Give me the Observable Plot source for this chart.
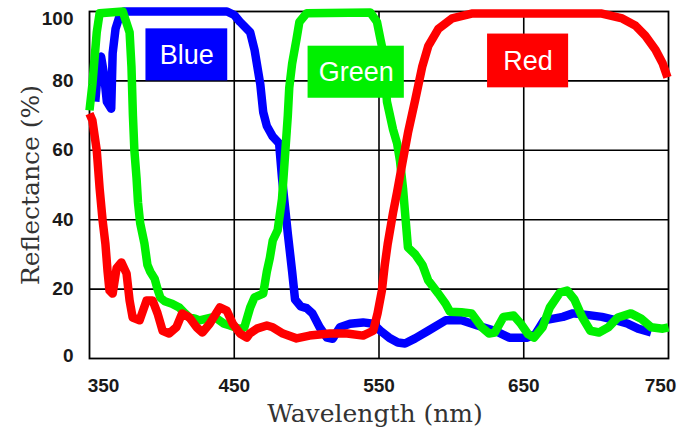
<!DOCTYPE html>
<html>
<head>
<meta charset="utf-8">
<script src="https://cdn.jsdelivr.net/npm/d3@7"></script>
<script src="https://cdn.jsdelivr.net/npm/@observablehq/plot@0.6"></script>
<style>
  html, body { margin: 0; padding: 0; background: #fff; }
  #chart { width: 678px; height: 434px; }
</style>
</head>
<body>
<div id="chart"></div>
<script>
// ---- data (wavelength nm, reflectance %) ----
const seriesNames = ["Blue", "Green", "Red"];
const wavelengthTicks = [350, 450, 550, 650, 750];
const reflectanceTicks = [0, 20, 40, 60, 80, 100];

const blueCurve = [
  [354, 74], [356, 84], [358, 87], [360, 82], [362, 74], [365, 72], [366, 88], [368, 95], [371, 99],
  [374, 100], [445, 100], [450, 99], [454, 97], [461, 94], [464, 89], [468, 79], [470, 71],
  [472.5, 67], [476.5, 64], [481, 62], [483, 52], [485, 44], [487, 36], [490, 25], [492, 17],
  [496, 15], [500, 14.5], [504, 13], [509, 9], [514, 6], [518, 5.7], [523, 9], [530, 10],
  [539, 10.4], [546, 10], [551, 8], [557, 6], [563, 4.6], [568, 4.3], [575, 5.8], [584, 8],
  [596, 11], [607, 11], [618, 9.5], [630, 8], [640, 6], [652, 6], [658, 7], [664, 11], [677, 12],
  [684, 13], [695, 12.5], [704, 12], [714, 11], [722, 10], [729, 8.6], [738, 7.5]
];

const greenCurve = [
  [350, 71.5], [352, 79], [355, 94], [357, 99.5], [373, 100], [377.7, 94], [379, 84], [380, 70],
  [381, 60], [382.5, 52], [383.5, 45], [385, 39], [388, 33], [390, 27], [392, 25], [395, 23],
  [397, 20], [399, 17.5], [402, 16.5], [407, 15.8], [412, 14.7], [416, 13], [419, 11.8],
  [423, 11.5], [426, 11], [434, 11.8], [438, 11.5], [443, 10], [447, 9.5], [454, 8.5], [457, 9],
  [461, 14.7], [464, 17.6], [470, 18.7], [472.5, 25], [474.6, 29], [476.6, 34], [480, 37],
  [483, 46], [485, 58], [487, 70], [488, 78], [490, 85], [493, 92], [495, 97], [500, 99.5],
  [544, 99.7], [548.6, 97], [551, 92], [553, 88], [555.5, 74], [559.7, 66], [562.5, 62],
  [564.5, 57], [566.6, 49], [568, 42], [570, 32], [575, 30], [580, 27], [584, 22.5], [591, 18.7],
  [596, 15.8], [599, 13.5], [607, 13.3], [614, 13], [621, 9], [626, 7.2], [630, 7.5], [636, 12],
  [643, 12.4], [648, 10], [653, 7], [657, 6], [663, 9], [668, 14.7], [675, 19], [680, 19.6],
  [685, 17], [690.5, 11.8], [696, 8], [702, 7.5], [708.5, 9], [715, 11.8], [724, 13], [731, 11.5],
  [738, 9], [746, 8.6], [750, 9]
];

const redCurve = [
  [350, 70.6], [352, 68.6], [355, 60], [357, 49], [359, 40], [361, 33], [362.5, 25], [363.8, 19.6],
  [366, 18.7], [368.7, 26], [372, 27.7], [375.6, 24.5], [377.7, 16.7], [379.8, 11.8], [384.6, 11],
  [389.4, 16.7], [393.6, 16.7], [397, 13], [400.5, 8], [405, 7.2], [410, 9], [414, 13],
  [419, 11.8], [424, 9], [428, 7.5], [433, 10], [440, 14.7], [444.8, 13.8], [449, 10], [454, 7.2],
  [458.7, 6], [460.7, 7.2], [465.6, 8.6], [472.5, 9.5], [476.6, 9], [483.6, 7.2], [493, 5.8],
  [502, 6.6], [516, 7.2], [528, 7.2], [539, 6.6], [546, 8], [549, 13], [552, 19.6], [554, 27],
  [556, 33], [559.7, 42], [562.5, 48], [566, 56], [570, 65], [575, 74.5], [579.8, 84], [584, 90],
  [591, 95], [600.5, 98], [614, 99.4], [704, 99.4], [718, 98], [727, 96], [734, 93], [741, 89],
  [746, 85], [749.3, 81]
];

// ---- styling / layout (kept apart from the data) ----
const seriesColors = {Blue: "#0000ff", Green: "#00f000", Red: "#ff0000"};
const labelBoxes = {
  Blue:  {x1: 389, x2: 445.5, y1: 80, y2: 95},
  Green: {x1: 501, x2: 567.5, y1: 75, y2: 90},
  Red:   {x1: 625, x2: 681,   y1: 78, y2: 93.5}
};
const labelTable = seriesNames.map(name => ({name, ...labelBoxes[name]}));

const tickFont = {fontSize: 19, fontWeight: "bold", fontFamily: "Liberation Sans, Arial, sans-serif", fill: "#1a1a1a"};
const titleFont = {fontSize: 25, fontFamily: "DejaVu Serif, serif", fill: "#333"};

const curve = (data, name) => Plot.line(data, {
  x: d => d[0], y: d => d[1], stroke: seriesColors[name],
  strokeWidth: 8.5, strokeLinejoin: "round", strokeLinecap: "butt"
});

const chart = Plot.plot({
  width: 678,
  height: 434,
  marginLeft: 89,
  marginRight: 10,
  marginTop: 11,
  marginBottom: 76,
  style: {background: "white"},
  x: {domain: [350, 750]},
  y: {domain: [0, 100]},
  marks: [
    Plot.gridX(wavelengthTicks.slice(1, -1), {stroke: "black", strokeOpacity: 1, strokeWidth: 1.6}),
    Plot.gridY(reflectanceTicks.slice(1, -1), {stroke: "black", strokeOpacity: 1, strokeWidth: 1.6}),
    Plot.frame({stroke: "black", strokeWidth: 1.8}),
    Plot.axisX(wavelengthTicks.slice(1, -1), {tickSize: 0, tickPadding: 20, label: null, ...tickFont}),
    Plot.axisX([wavelengthTicks[0]], {tickSize: 0, tickPadding: 20, label: null, dx: 14, ...tickFont}),
    Plot.axisX([wavelengthTicks[wavelengthTicks.length - 1]], {tickSize: 0, tickPadding: 20, label: null, dx: -8, ...tickFont}),
    Plot.axisY(reflectanceTicks.slice(1, -1), {tickSize: 0, tickPadding: 16, label: null, ...tickFont}),
    Plot.axisY([reflectanceTicks[reflectanceTicks.length - 1]], {tickSize: 0, tickPadding: 16, label: null, dy: 7, ...tickFont}),
    Plot.axisY([reflectanceTicks[0]], {tickSize: 0, tickPadding: 16, label: null, dy: -3, ...tickFont}),
    curve(blueCurve, "Blue"),
    curve(greenCurve, "Green"),
    curve(redCurve, "Red"),
    Plot.rect(labelTable, {x1: "x1", x2: "x2", y1: "y1", y2: "y2", fill: d => seriesColors[d.name]}),
    Plot.text(labelTable, {
      x: d => (d.x1 + d.x2) / 2, y: d => (d.y1 + d.y2) / 2, text: "name",
      fill: "white", fontSize: 27, fontFamily: "Liberation Sans, Arial, sans-serif"
    }),
    Plot.text(["Wavelength (nm)"], {frameAnchor: "bottom", lineAnchor: "middle", dy: 55, dx: -4, text: d => d, ...titleFont}),
    Plot.text(["Reflectance (%)"], {frameAnchor: "left", textAnchor: "middle", lineAnchor: "middle", dx: -59, rotate: -90, text: d => d, ...titleFont})
  ]
});

document.getElementById("chart").appendChild(chart);
</script>
</body>
</html>
